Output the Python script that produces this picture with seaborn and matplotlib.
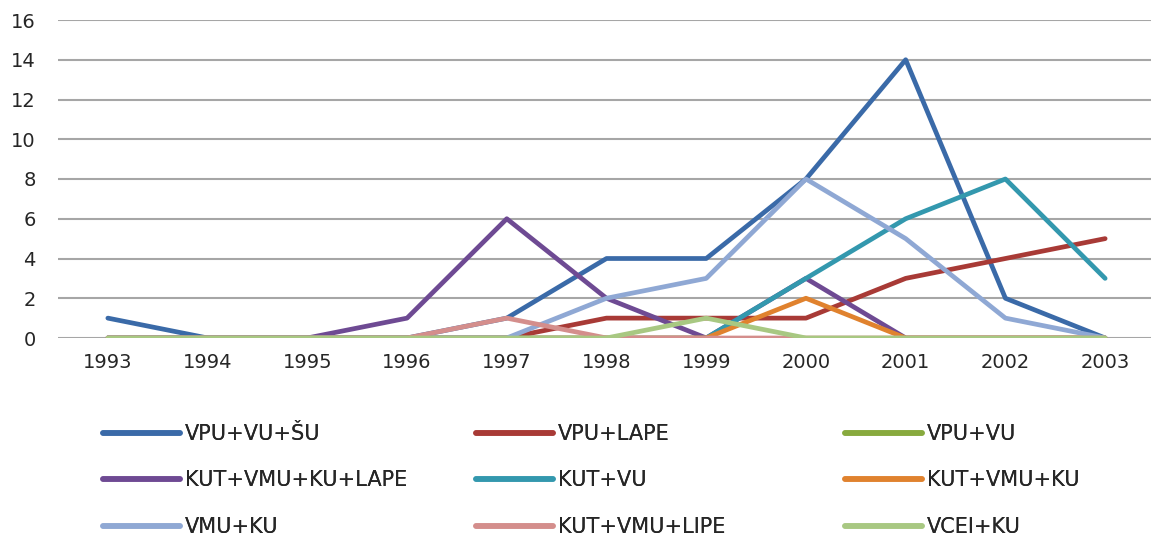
import matplotlib
matplotlib.use("Agg")
import matplotlib.pyplot as plt
import seaborn as sns
import pandas as pd
from matplotlib.lines import Line2D

years = ["1993", "1994", "1995", "1996", "1997", "1998", "1999", "2000", "2001", "2002", "2003"]
series_names = ["VPU+VU+ŠU", "VPU+LAPE", "VPU+VU",
                "KUT+VMU+KU+LAPE", "KUT+VU", "KUT+VMU+KU",
                "VMU+KU", "KUT+VMU+LIPE", "VCEI+KU"]
vpu_vu_su      = [1, 0, 0, 0, 1, 4, 4, 8, 14, 2, 0]
vpu_lape       = [0, 0, 0, 0, 0, 1, 1, 1, 3, 4, 5]
vpu_vu         = [0, 0, 0, 0, 0, 0, 0, 0, 0, 0, 0]
kut_vmu_ku_lape= [0, 0, 0, 1, 6, 2, 0, 3, 0, 0, 0]
kut_vu         = [0, 0, 0, 0, 0, 0, 0, 3, 6, 8, 3]
kut_vmu_ku     = [0, 0, 0, 0, 0, 0, 0, 2, 0, 0, 0]
vmu_ku         = [0, 0, 0, 0, 0, 2, 3, 8, 5, 1, 0]
kut_vmu_lipe   = [0, 0, 0, 0, 1, 0, 0, 0, 0, 0, 0]
vcei_ku        = [0, 0, 0, 0, 0, 0, 1, 0, 0, 0, 0]
all_values = [vpu_vu_su, vpu_lape, vpu_vu, kut_vmu_ku_lape, kut_vu,
              kut_vmu_ku, vmu_ku, kut_vmu_lipe, vcei_ku]
colors = ["#3A6AA8", "#A83A36", "#88AA3E", "#6E4A93", "#3398AE",
          "#E0822E", "#8FA8D4", "#D48E8C", "#A8C882"]

rows = []
for name, vals in zip(series_names, all_values):
    for i, v in enumerate(vals):
        rows.append({"idx": i, "value": v, "series": name})
df = pd.DataFrame(rows)

sns.set_style("white")
plt.rcParams["font.family"] = ["DejaVu Sans"]

fig = plt.figure(figsize=(11.51, 5.41), dpi=100)
W, H = 1151, 541
ax = fig.add_axes([58 / W, (H - 338) / H, (1155 - 58) / W, (338 - 20) / H])

sns.lineplot(data=df, x="idx", y="value", hue="series", hue_order=series_names,
             palette=colors, linewidth=3.4, ax=ax, legend=False, sort=False)

ax.set_xlim(-0.5, 10.5)
ax.set_ylim(0, 16)
ax.set_yticks(range(0, 17, 2))
ax.set_xticks(range(len(years)))
ax.set_xticklabels(years)
ax.yaxis.grid(True, color="#a6a6a6", linewidth=1.5)
ax.set_axisbelow(True)
for s in ax.spines.values():
    s.set_visible(False)
ax.set_xlabel("")
ax.set_ylabel("")
ax.tick_params(axis="both", length=0, labelsize=14, colors="#262626")
ax.tick_params(axis="x", pad=11)
ax.tick_params(axis="y", pad=16)

handles = {name: Line2D([], [], color=c, linewidth=4) for name, c in zip(series_names, colors)}
col_x = [103, 476, 845]
for col in range(3):
    names = [series_names[r * 3 + col] for r in range(3)]
    leg = fig.legend([handles[n] for n in names], names,
                     loc="upper left", bbox_to_anchor=(col_x[col] / W, (H - 424) / H),
                     frameon=False, fontsize=15, handlelength=3.7, handletextpad=0.25,
                     labelspacing=1.27, borderpad=0, borderaxespad=0)
    for t in leg.get_texts():
        t.set_color("#262626")
    fig.add_artist(leg)

fig.savefig("out.png", dpi=100)
